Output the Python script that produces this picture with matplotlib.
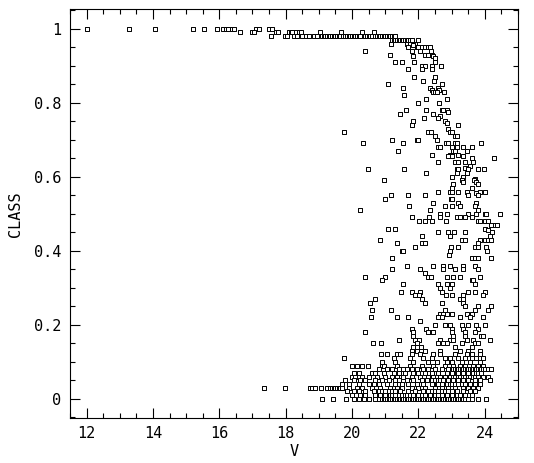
import matplotlib
matplotlib.use("Agg")
import matplotlib.pyplot as plt
from matplotlib.ticker import MultipleLocator

# CLASS values come in steps, so points are kept row by row: one level, a list of V
star_levels = [1.00, 0.99, 0.98, 0.97]
star_rows = [
    [12.0, 13.27, 14.05, 15.2, 15.53, 15.92, 16.12, 16.2, 16.25, 16.37, 16.43,
     17.1, 17.2, 17.5, 17.58],
    [16.62, 17.0, 17.05, 17.72, 17.78, 18.1, 18.15, 18.2, 18.3, 18.4, 18.45,
     19.02, 19.68, 20.3, 20.65],
    [17.55, 17.98, 18.05, 18.25, 18.35, 18.5, 18.6, 18.7, 18.85, 18.95, 19.1,
     19.15, 19.2, 19.25, 19.3, 19.35, 19.4, 19.45, 19.5, 19.55, 19.6, 19.65,
     19.72, 19.78, 19.85, 19.9, 19.95, 20.0, 20.05, 20.1, 20.15, 20.2, 20.25,
     20.35, 20.4, 20.45, 20.5, 20.55, 20.6, 20.7, 20.75, 20.8, 20.85, 20.9,
     20.95, 21.0, 21.05, 21.1, 21.15, 21.2, 21.25, 21.3],
    [21.2, 21.25, 21.3, 21.35, 21.4, 21.45, 21.5, 21.55, 21.6, 21.65, 21.7,
     21.75, 21.8, 21.98],
]

mid_levels = [0.96, 0.955, 0.95, 0.94, 0.93, 0.925, 0.92, 0.91, 0.90, 0.89,
              0.87, 0.86, 0.85, 0.84, 0.835, 0.83, 0.82, 0.81, 0.80, 0.78,
              0.775, 0.77, 0.765, 0.76, 0.75, 0.745, 0.74, 0.73, 0.72, 0.71,
              0.70, 0.69, 0.68, 0.67, 0.66, 0.655, 0.65, 0.64, 0.63, 0.625,
              0.62, 0.61, 0.60, 0.595, 0.59, 0.585, 0.58, 0.57, 0.56, 0.557,
              0.55, 0.54, 0.53, 0.52, 0.51, 0.50, 0.49, 0.48, 0.47, 0.46,
              0.455, 0.45, 0.44, 0.43, 0.42, 0.41, 0.40, 0.39, 0.38, 0.36,
              0.35, 0.34, 0.33, 0.32, 0.31, 0.30, 0.29, 0.28, 0.27, 0.26,
              0.25, 0.24, 0.23, 0.22, 0.21, 0.20, 0.19, 0.18, 0.17, 0.16,
              0.15, 0.14, 0.13, 0.12, 0.11, 0.10]
mid_rows = [
    [21.17, 21.65, 21.75, 21.9],
    [21.85],
    [21.7, 21.95, 22.0, 22.1, 22.2, 22.3, 22.35],
    [20.38, 21.8, 22.05, 22.38],
    [21.15, 22.2, 22.3, 22.4],
    [21.85, 22.45],
    [22.5],
    [21.3, 21.52, 21.88, 22.5],
    [22.12, 22.2, 22.4, 22.68],
    [21.68, 22.12, 22.4],
    [21.88, 22.5],
    [22.15, 22.48],
    [21.07, 22.7],
    [21.55, 22.35, 22.58],
    [22.4, 22.62],
    [22.45, 22.5, 22.55, 22.78],
    [21.58],
    [22.22, 22.85],
    [21.98, 22.63],
    [21.62, 22.22, 22.7, 22.75, 22.85],
    [22.9],
    [21.45, 22.43],
    [22.65],
    [22.16, 22.6],
    [21.83, 22.8],
    [22.85],
    [21.8, 23.2],
    [22.9],
    [19.77, 22.3, 22.38, 22.95, 23.0],
    [22.5, 23.1, 23.15],
    [21.2, 21.95, 22.0, 22.55],
    [20.33, 21.55, 22.82, 22.9, 23.1, 23.15, 23.9],
    [22.6, 22.65, 23.0, 23.15, 23.35, 23.62],
    [21.38, 23.05, 23.1, 23.45],
    [22.4, 22.95, 23.0, 23.2],
    [22.9, 23.0, 23.35],
    [23.6, 24.27],
    [22.6, 23.1, 23.2, 23.4, 23.65],
    [23.55],
    [23.4],
    [20.48, 21.58, 23.15, 23.2, 23.5, 23.8, 23.98],
    [22.23, 23.15, 23.45],
    [23.0, 23.35],
    [23.7],
    [20.95, 23.3, 23.68],
    [23.35, 23.75],
    [23.05, 23.8],
    [23.0, 23.6],
    [22.58, 22.95, 23.0, 23.2, 23.45, 23.85, 24.0],
    [23.75],
    [21.18, 21.68, 22.2, 23.5, 23.8],
    [20.98, 22.98, 23.02],
    [22.45, 23.2, 23.75],
    [21.73, 22.8, 23.0, 23.25, 23.7],
    [20.25, 22.35, 23.8],
    [22.65, 22.85, 23.5, 23.75, 24.0, 24.05, 24.45],
    [21.8, 22.32, 22.65, 23.15, 23.25, 23.4, 23.6],
    [22.02, 22.2, 22.42, 22.82, 23.8, 23.85, 24.0, 24.1],
    [24.2, 24.3, 24.37],
    [21.08, 21.28, 24.02],
    [24.1],
    [22.58, 22.88, 23.08, 23.4, 24.22],
    [22.12, 22.95, 24.15],
    [20.83, 23.3, 23.4, 23.85, 24.0, 24.1, 24.18],
    [21.35, 22.12, 22.2, 23.8],
    [21.9, 22.98, 23.2, 23.7, 23.8, 24.05],
    [21.5, 21.55, 22.95, 24.07],
    [22.92],
    [21.2, 23.6, 23.7, 23.8, 24.2],
    [21.65, 22.45, 22.75, 22.95, 23.35, 23.7],
    [21.2, 22.05, 22.75, 23.1, 23.35, 23.8],
    [22.2],
    [20.4, 20.98, 22.3, 22.38, 22.85, 23.05, 23.25, 23.85],
    [20.9, 23.6, 23.65],
    [21.55, 22.58, 22.85, 23.0, 23.7],
    [22.65, 22.95],
    [21.48, 21.8, 22.05, 22.7, 23.5, 23.7, 24.0],
    [21.9, 22.02, 22.83, 23.0, 23.35, 23.95],
    [20.68, 22.1, 23.25, 23.35],
    [20.55, 22.2, 22.72, 23.35],
    [23.4, 23.8, 24.2],
    [20.6, 21.18, 22.8, 23.7, 24.1],
    [22.65, 22.75, 22.85, 23.02, 23.45, 23.6],
    [20.58, 21.35, 21.7, 22.6, 22.7, 23.25, 23.55, 23.95],
    [22.05],
    [22.5, 22.8, 22.95, 23.3, 23.5, 23.75, 24.0],
    [21.8, 22.23, 23.0, 23.35, 23.8],
    [20.4, 21.83, 22.3, 22.4, 22.45, 23.02, 23.4, 23.7],
    [21.85, 23.05, 23.4, 23.9, 23.95],
    [21.4, 21.9, 22.02, 22.65, 22.95, 23.05, 23.45, 23.65, 24.17],
    [20.63, 20.88, 21.95, 22.58, 22.75, 22.85, 23.3, 23.7, 23.8],
    [21.85, 22.08, 23.1, 23.6],
    [21.8, 21.95, 22.2, 22.65, 23.25, 23.5, 23.85],
    [20.88, 21.05, 21.35, 21.45, 21.8, 22.05, 22.45, 22.65, 23.1, 23.45,
     23.6, 23.85],
    [19.75, 21.25, 21.75, 22.15, 22.4, 22.8, 22.95, 23.2, 23.4, 23.6, 23.75,
     23.95],
    [20.9, 21.3, 21.85, 22.3, 22.55, 22.85, 23.0, 23.3, 23.55, 23.85],
]

faint_levels = [0.09, 0.08, 0.07, 0.06, 0.05, 0.04, 0.03, 0.02, 0.01, 0.00]
faint_rows = [
    [20.0, 20.15, 20.3, 20.48, 20.9, 20.95, 21.35, 21.75, 22.1, 22.45, 22.8,
     23.05, 23.25, 23.4, 23.65, 23.8, 23.95],
    [20.8, 21.05, 21.2, 21.4, 21.55, 21.65, 21.8, 21.95, 22.15, 22.3, 22.5,
     22.7, 22.9, 23.0, 23.05, 23.1, 23.15, 23.2, 23.25, 23.3, 23.35, 23.4,
     23.45, 23.5, 23.55, 23.6, 23.65, 23.7, 23.75, 23.8, 23.85, 23.9, 23.95,
     24.0, 24.1, 24.2],
    [20.05, 20.2, 20.6, 20.7, 20.95, 21.25, 21.4, 21.6, 21.85, 22.0, 22.2,
     22.4, 22.6, 22.85, 23.0, 23.15, 23.2, 23.3, 23.35, 23.45, 23.5, 23.6,
     23.65, 23.75, 23.8, 23.9],
    [20.0, 20.1, 20.3, 20.5, 20.75, 21.0, 21.2, 21.35, 21.55, 21.8, 22.05,
     22.3, 22.45, 22.65, 22.8, 22.95, 23.05, 23.1, 23.2, 23.25, 23.35, 23.4,
     23.5, 23.55, 23.65, 23.7, 23.8, 23.95, 24.1],
    [19.8, 20.05, 20.25, 20.4, 20.7, 20.9, 21.1, 21.3, 21.4, 21.65, 21.85,
     22.1, 22.25, 22.4, 22.5, 22.6, 22.65, 22.75, 22.9, 23.0, 23.05, 23.15,
     23.2, 23.3, 23.35, 23.45, 23.5, 23.7, 23.85, 24.15],
    [19.7, 19.9, 20.2, 20.5, 20.65, 20.8, 21.05, 21.3, 21.5, 21.7, 21.95,
     22.15, 22.4, 22.55, 22.6, 22.7, 22.85, 22.95, 23.0, 23.1, 23.2, 23.3,
     23.4, 23.55, 23.7, 23.85],
    [17.35, 17.98, 18.73, 18.8, 18.88, 19.05, 19.25, 19.35, 19.4, 19.45,
     19.5, 19.55, 19.6, 19.65, 19.7, 19.9, 20.15, 20.3, 20.6, 20.85, 21.15,
     21.35, 21.5, 21.8, 22.0, 22.2, 22.5, 22.7, 22.9, 23.1, 23.35, 23.5,
     23.65, 23.8],
    [19.85, 20.05, 20.2, 20.4, 20.65, 20.8, 20.9, 21.0, 21.1, 21.2, 21.3,
     21.45, 21.7, 21.9, 22.15, 22.3, 22.4, 22.5, 22.6, 22.7, 22.8, 22.9,
     23.0, 23.15, 23.35, 23.55, 23.7],
    [20.0, 20.25, 20.4, 20.7, 20.85, 20.95, 21.0, 21.1, 21.15, 21.2, 21.3,
     21.4, 21.5, 21.6, 21.65, 21.75, 21.85, 22.0, 22.1, 22.2, 22.35, 22.5,
     22.6, 22.7, 22.85, 23.0, 23.15, 23.25, 23.4, 23.6],
    [19.08, 19.43, 19.82, 20.05, 20.2, 20.35, 20.5, 20.7, 20.8, 20.9, 20.95,
     21.0, 21.05, 21.1, 21.15, 21.2, 21.25, 21.3, 21.35, 21.4, 21.45, 21.5,
     21.55, 21.6, 21.65, 21.7, 21.75, 21.8, 21.85, 21.9, 21.95, 22.0, 22.05,
     22.1, 22.15, 22.2, 22.25, 22.3, 22.35, 22.4, 22.45, 22.5, 22.55, 22.6,
     22.65, 22.7, 22.75, 22.8, 22.85, 22.9, 22.95, 23.0, 23.05, 23.1, 23.15,
     23.2, 23.25, 23.3, 23.35, 23.4, 23.5, 23.6, 23.8, 24.05],
]

v_all = []
class_all = []
for levels, rows in [(star_levels, star_rows), (mid_levels, mid_rows),
                     (faint_levels, faint_rows)]:
    for lev, row in zip(levels, rows):
        v_all += row
        class_all += [lev] * len(row)

plt.rcParams['font.family'] = ['DejaVu Sans Mono', 'DejaVu Sans']

fig = plt.figure(figsize=(5.34, 4.63), dpi=100)
ax = fig.add_axes([0.131, 0.097, 0.839, 0.8825])
ax.scatter(v_all, class_all, marker='s', s=6, facecolors='white',
           edgecolors='black', linewidths=0.7)

ax.set_xlim(11.5, 25)
ax.set_ylim(-0.052, 1.052)
ax.xaxis.set_major_locator(MultipleLocator(2))
ax.xaxis.set_minor_locator(MultipleLocator(0.5))
ax.yaxis.set_major_locator(MultipleLocator(0.2))
ax.yaxis.set_minor_locator(MultipleLocator(0.05))
ax.set_yticks([0, 0.2, 0.4, 0.6, 0.8, 1.0])
ax.set_yticklabels(['0', '0.2', '0.4', '0.6', '0.8', '1'])
ax.tick_params(which='both', direction='in', top=True, right=True,
               width=0.8, labelsize=11)
ax.tick_params(which='major', length=7, pad=6)
ax.tick_params(which='minor', length=3.5)
for sp in ax.spines.values():
    sp.set_linewidth(0.8)

ax.set_xlabel('V', fontsize=11, labelpad=2)
ax.set_ylabel('CLASS', fontsize=11, labelpad=8)

fig.savefig('out.png', dpi=100)
